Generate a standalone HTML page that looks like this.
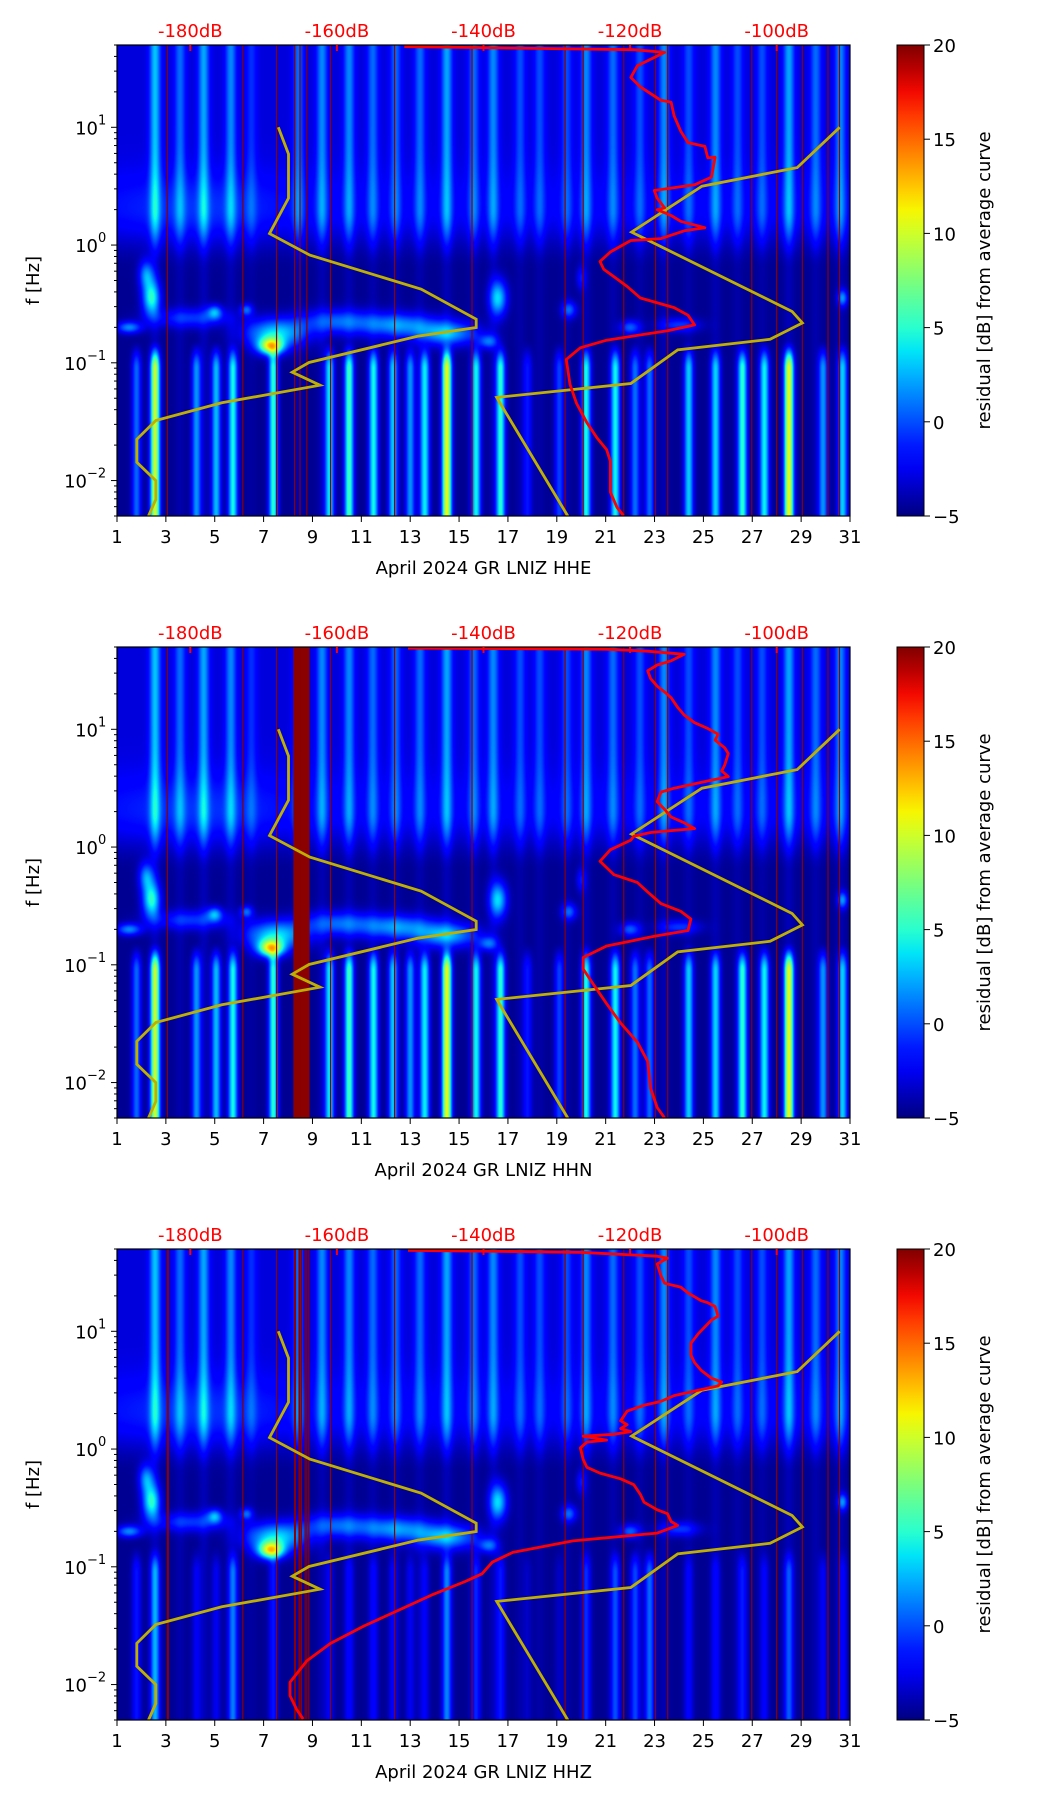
<!DOCTYPE html>
<html><head><meta charset="utf-8">
<style>
html,body{margin:0;padding:0;background:#fff;}
#wrap{position:relative;width:1052px;height:1806px;overflow:hidden;background:#fff;font-family:"DejaVu Sans","Liberation Sans",sans-serif;}
canvas{position:absolute;}
svg{position:absolute;left:0;top:0;}
</style></head>
<body>
<div id="wrap">
<svg id="svg" width="1052" height="1806"></svg>
</div>
<script>
// ---------- data ----------
const panelNames = ["HHE","HHN","HHZ"];
const dayTicks = [1,3,5,7,9,11,13,15,17,19,21,23,25,27,29,31];
const dbTicks = [-180,-160,-140,-120,-100];
const cbTicks = [20,15,10,5,0,-5];
const yTickExp = [1,0,-1,-2];
const nlnmDb = [-168,-166.6,-166.6,-169.2,-163.7,-148.5,-141,-141,-149,-163.8,-166.1,-162.3,-175.7,-184.7,-187.3,-187.3,-184.7,-184.7,-185.7];
const nlnmLogF = [1,0.773,0.398,0.097,-0.085,-0.375,-0.63,-0.70,-0.775,-0.997,-1.08,-1.19,-1.34,-1.49,-1.65,-1.845,-2.0,-2.16,-2.301];
const nhnmDb = [-91.4,-97.2,-110.2,-119.8,-97.9,-96.5,-100.9,-113.5,-119.9,-138.2,-128.5];
const nhnmLogF = [1,0.658,0.5,0.11,-0.564,-0.662,-0.80,-0.89,-1.176,-1.294,-2.301];
const psdDb = [
 [-150.8,-119.5,-115.3,-119.0,-119.9,-118.6,-115.8,-114.4,-114.0,-113.1,-112.1,-109.8,-109.4,-108.4,-108.9,-111.2,-116.7,-116.3,-115.3,-116.3,-114.4,-113.1,-109.8,-112.6,-115.8,-119.9,-122.7,-124.1,-123.6,-122.2,-120.4,-118.6,-114.0,-112.1,-111.2,-114.9,-123.2,-126.8,-128.7,-128.2,-127.3,-125.9,-124.5,-123.2,-122.7,-122.7,-121.8,-120.9],
 [-150.3,-123.2,-117.6,-112.6,-114.4,-116.3,-117.6,-117.2,-116.3,-115.3,-114.4,-113.5,-112.6,-111.2,-109.4,-108.0,-108.4,-107.1,-106.6,-107.1,-107.5,-106.6,-110.3,-114.0,-115.8,-116.3,-115.3,-114.4,-112.6,-111.2,-114.4,-117.2,-119.5,-119.9,-122.7,-124.1,-122.2,-119.0,-117.6,-115.8,-113.1,-111.7,-112.1,-116.7,-123.2,-126.4,-126.4,-125.0,-123.2,-121.3,-119.0,-117.6,-117.2,-116.3,-115.3],
 [-150.3,-126.8,-116.3,-114.9,-116.3,-115.8,-115.3,-113.1,-112.1,-110.3,-109.4,-108.4,-108.0,-108.9,-109.4,-110.7,-111.7,-111.7,-111.2,-110.3,-108.9,-107.5,-108.0,-114.0,-115.8,-118.1,-120.4,-121.3,-120.4,-121.3,-119.9,-122.2,-126.4,-123.2,-125.9,-126.8,-126.4,-125.9,-124.1,-121.3,-119.5,-118.6,-118.1,-116.3,-114.9,-114.4,-113.5,-116.3,-127.8,-136.0,-138.8,-140.2,-142.5,-147.1,-151.7,-156.3,-160.9,-164.1,-166.4,-166.4,-165.5,-164.6]
];
const psdLogF = [
 [1.685,1.659,1.636,1.522,1.424,1.343,1.229,1.213,1.098,0.968,0.870,0.838,0.740,0.746,0.577,0.512,0.463,0.398,0.316,0.300,0.251,0.202,0.147,0.121,0.055,0.039,-0.059,-0.140,-0.205,-0.270,-0.352,-0.450,-0.531,-0.596,-0.678,-0.727,-0.808,-0.873,-0.971,-1.183,-1.346,-1.509,-1.639,-1.737,-1.835,-2.096,-2.226,-2.298],
 [1.690,1.680,1.663,1.637,1.582,1.546,1.497,1.431,1.366,1.317,1.268,1.186,1.121,1.056,1.007,0.958,0.908,0.843,0.794,0.696,0.647,0.598,0.549,0.500,0.467,0.386,0.320,0.255,0.206,0.157,0.140,0.124,0.092,0.059,-0.023,-0.121,-0.235,-0.301,-0.382,-0.480,-0.546,-0.611,-0.709,-0.758,-0.840,-0.938,-1.036,-1.167,-1.330,-1.494,-1.657,-1.820,-2.049,-2.212,-2.300],
 [1.688,1.671,1.638,1.622,1.572,1.474,1.408,1.375,1.326,1.260,1.243,1.211,1.128,1.095,1.063,0.980,0.898,0.799,0.734,0.668,0.602,0.569,0.536,0.454,0.405,0.372,0.322,0.240,0.207,0.174,0.148,0.125,0.109,0.076,0.059,0.010,-0.089,-0.155,-0.204,-0.253,-0.303,-0.385,-0.451,-0.516,-0.549,-0.615,-0.648,-0.714,-0.780,-0.878,-0.961,-1.059,-1.125,-1.240,-1.372,-1.503,-1.651,-1.799,-1.980,-2.095,-2.211,-2.293]
];
const hfDays = [2.56,3.58,4.55,5.66,6.5,8.42,9.39,10.5,11.47,12.4,13.4,14.5,15.6,16.4,17.5,18.3,19.4,20.2,21.3,22.4,23.4,24.4,25.5,26.4,27.4,28.5,29.6,30.6];
const hfLevel = [8,5,7,6,3,5,6,6,5,5,5,7,5,6,4,4,4,6,5,4,6,4,6,4,4,7,5,6];
const lfDays = [1.8,2.56,4.25,5.06,5.75,7.4,9.7,10.5,11.5,12.3,13.0,13.6,14.5,15.7,16.7,17.8,19.1,20.2,21.4,22.2,22.8,24.4,25.5,26.6,27.5,28.5,29.9,30.7];
const lfLevel = [
 [5,13,6,7,8,9,8,9,8,7,6,8,14,8,9,3,4,8,8,5,5,7,7,9,8,14,6,7],
 [5,13,6,7,8,9,8,9,8,7,6,8,14,8,9,3,4,8,8,5,5,7,7,9,8,14,6,7],
 [3,6,2,2,5,3,2,2,2,2,2,2,5,3,3,1,1,3,4,4,5,2,2,3,2,4,2,2]
];
const blobDay = [1.5,4,7.5,7.3,10,12.5,14.5,16.2,2.4,2.2,5.0,6.3,16.6,19.5,22.0,24.0,30.7,20.0,4.3];
const blobLogF = [-0.7,-0.62,-0.75,-0.86,-0.65,-0.68,-0.75,-0.82,-0.45,-0.25,-0.57,-0.55,-0.45,-0.55,-0.7,-0.68,-0.45,-0.28,0.3];
const blobWDay = [0.5,1.5,1.2,0.5,1.5,1.5,1.2,0.4,0.35,0.3,0.3,0.25,0.35,0.3,0.4,0.8,0.2,0.2,3.5];
const blobWLog = [0.05,0.08,0.12,0.07,0.1,0.1,0.1,0.06,0.15,0.12,0.06,0.05,0.15,0.07,0.06,0.06,0.07,0.1,0.3];
const blobLevel = [6,4,8,14,5,6,7,5,9,6,6,5,8,5,5,4,6,3,1.5];
const gapDays = [3.06,6.15,7.53,8.27,8.49,8.77,9.74,12.36,15.53,19.34,20.08,21.74,23.04,23.54,26.98,28.0,29.05,30.1,30.57];
const extraGap = [[],[8.3,8.4,8.5,8.6,8.7,8.8],[8.3,8.45,8.55,8.7,8.85,3.1]];

// ---------- layout ----------
const T = [45,647,1249], H = 471, L = 117, W = 733;
const LT = Math.log10(50), LB = Math.log10(0.005);
const CBX = 897, CBW = 27, FS = 18;
const xDay = d => L + (d-1)/30*W;
const xDb = db => xDay(4 + (db+180)*0.3);
const yLog = (p,lf) => T[p] + (LT-lf)/(LT-LB)*H;

function jet(t){
  t=Math.max(0,Math.min(1,t));
  const pw=(pts)=>{for(let i=1;i<pts.length;i++){if(t<=pts[i][0]){const a=pts[i-1],b=pts[i];return a[1]+(b[1]-a[1])*(t-a[0])/(b[0]-a[0]);}}return pts[pts.length-1][1];};
  return [pw([[0,0],[0.35,0],[0.66,1],[0.89,1],[1,0.5]]),pw([[0,0],[0.125,0],[0.375,1],[0.64,1],[0.91,0],[1,0]]),pw([[0,0.5],[0.11,1],[0.34,1],[0.65,0],[1,0]])].map(v=>Math.round(v*255));
}
const smooth=(x,a,b)=>{const t=Math.max(0,Math.min(1,(x-a)/(b-a)));return t*t*(3-2*t);};
const NS="http://www.w3.org/2000/svg";
const svg=document.getElementById('svg');
const wrap=document.getElementById('wrap');
function mk(tag,attrs,parent){const e=document.createElementNS(NS,tag);for(const k in attrs)e.setAttribute(k,attrs[k]);(parent||svg).appendChild(e);return e;}

for(let p=0;p<3;p++){
  const cv=document.createElement('canvas');
  cv.width=W;cv.height=H;cv.style.left=L+'px';cv.style.top=T[p]+'px';
  
  
  wrap.insertBefore(cv,svg);
  const ctx=cv.getContext('2d');const img=ctx.createImageData(W,H);
  const colHf=new Float32Array(W),colLf=new Float32Array(W);
  for(let x=0;x<W;x++){const d=1+(x+0.5)/W*30;let a=0,b=0;
    for(let i=0;i<hfDays.length;i++){const z=(d-hfDays[i])/0.22;a+=hfLevel[i]*Math.exp(-z*z);}
    for(let i=0;i<lfDays.length;i++){const z=(d-lfDays[i])/0.19;b+=lfLevel[p][i]*Math.exp(-z*z);}
    colHf[x]=a;colLf[x]=b;}
  for(let y=0;y<H;y++){const lf=LT-(y+0.5)/H*(LT-LB);
    const up=smooth(lf,-0.2,0.3);
    const bg = -4.6 + 1.6*up;
    const hfp = 0.15+0.85*up;
    const lfp = 1-smooth(lf,-1.05,-0.8);
    const band = 0.8*Math.exp(-Math.pow((lf-0.35)/0.3,2));
    for(let x=0;x<W;x++){const d=1+(x+0.5)/W*30;
      let v=bg+band+colHf[x]*hfp*0.75+colLf[x]*lfp*1.05;
      for(let i=0;i<blobDay.length;i++){const zx=(d-blobDay[i])/blobWDay[i],zy=(lf-blobLogF[i])/blobWLog[i];const q=zx*zx+zy*zy;if(q<9)v+=blobLevel[i]*Math.exp(-q);}
      const c=jet((v+5)/25);const o=(y*W+x)*4;img.data[o]=c[0];img.data[o+1]=c[1];img.data[o+2]=c[2];img.data[o+3]=255;}
  }
  ctx.putImageData(img,0,0);
  const g=mk('g',{});
  gapDays.concat(extraGap[p]).forEach(d=>{const l=mk('line',{x1:xDay(d),x2:xDay(d),y1:T[p],y2:T[p]+H,stroke:'#8b0000','stroke-width':p===1&&extraGap[p].includes(d)?4:1.2},g);
    });
  const path=(dbs,lfs)=>dbs.map((v,i)=>(i?'L':'M')+xDb(v).toFixed(1)+','+yLog(p,lfs[i]).toFixed(1)).join('');
  let e=mk('path',{d:path(nlnmDb,nlnmLogF),fill:'none',stroke:'#bfb000','stroke-width':2.8},g);
  
  e=mk('path',{d:path(nhnmDb,nhnmLogF),fill:'none',stroke:'#bfb000','stroke-width':2.8},g);
  
  e=mk('path',{d:path(psdDb[p],psdLogF[p]),fill:'none',stroke:'#ff0000','stroke-width':2.8,'stroke-linejoin':'round'},g);
  
  e=mk('rect',{x:L,y:T[p],width:W,height:H,fill:'none',stroke:'#000','stroke-width':1.2},g);
  
  dayTicks.forEach(d=>{mk('line',{x1:xDay(d),x2:xDay(d),y1:T[p]+H,y2:T[p]+H+6,stroke:'#000'},g);
    const t=mk('text',{x:xDay(d),y:T[p]+H+27,'text-anchor':'middle','font-size':FS},g);t.textContent=d;
    });
  dbTicks.forEach(db=>{mk('line',{x1:xDb(db),x2:xDb(db),y1:T[p],y2:T[p]+6,stroke:'#ff0000','stroke-width':2},g);
    const t=mk('text',{x:xDb(db),y:T[p]-8,'text-anchor':'middle','font-size':FS,fill:'#ff0000'},g);t.textContent=db+'dB';
    });
  for(let e10=-3;e10<=1;e10++){for(let m=1;m<10;m++){const lf=e10+Math.log10(m);if(lf<LB||lf>LT)continue;
    mk('line',{x1:L-(m===1?6:3),x2:L,y1:yLog(p,lf),y2:yLog(p,lf),stroke:'#000'},g);}}
  yTickExp.forEach(ex=>{const t=mk('text',{x:ex<0?L-30:L-19,y:yLog(p,ex)+7,'text-anchor':'end','font-size':FS},g);t.textContent='10';
    const s=mk('text',{x:ex<0?L-30:L-19,y:yLog(p,ex)-3,'text-anchor':'start','font-size':13},g);s.textContent=ex<0?'\u2212'+(-ex):''+ex;
    });
  let t=mk('text',{x:0,y:0,'text-anchor':'middle','font-size':FS,transform:`translate(39,${T[p]+H/2}) rotate(-90)`},g);t.textContent='f [Hz]';
  
  t=mk('text',{x:L+W/2,y:T[p]+H+58,'text-anchor':'middle','font-size':FS},g);t.textContent='April 2024 GR LNIZ  '+panelNames[p];
  
  const gid='cbg'+p;const defs=mk('defs',{},g);const lg=mk('linearGradient',{id:gid,x1:0,y1:1,x2:0,y2:0},defs);
  for(let i=0;i<=20;i++){const c=jet(i/20);mk('stop',{offset:i/20,'stop-color':`rgb(${c[0]},${c[1]},${c[2]})`},lg);}
  e=mk('rect',{x:CBX,y:T[p],width:CBW,height:H,fill:`url(#${gid})`,stroke:'#000','stroke-width':1},g);
  
  cbTicks.forEach(v=>{const y=T[p]+(20-v)/25*H;mk('line',{x1:CBX+CBW,x2:CBX+CBW+6,y1:y,y2:y,stroke:'#000'},g);
    const tt=mk('text',{x:CBX+CBW+9,y:y+7,'font-size':FS},g);tt.textContent=v<0?'\u2212'+(-v):v;
    });
  t=mk('text',{x:0,y:0,'text-anchor':'middle','font-size':FS,transform:`translate(990,${T[p]+H/2}) rotate(-90)`},g);t.textContent='residual [dB] from average curve';
  
}
</script>
</body></html>
